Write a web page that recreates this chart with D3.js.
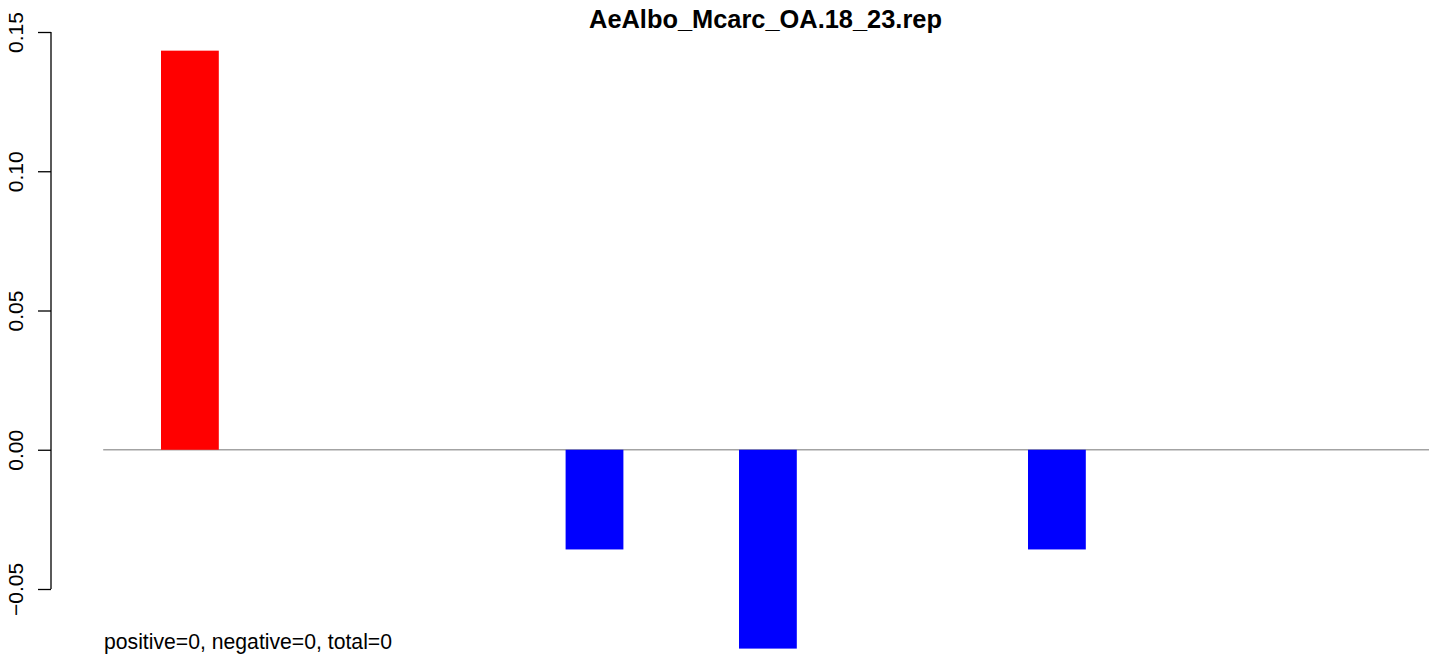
<!DOCTYPE html>
<html>
<head>
<meta charset="utf-8">
<script src="https://cdn.jsdelivr.net/npm/d3@7"></script>
<style>
  html, body { margin: 0; padding: 0; background: #fff; }
  svg { display: block; }
  text { font-family: "Liberation Sans", Arial, Helvetica, sans-serif; }
</style>
</head>
<body>
<div id="chart"></div>
<script>
// ---- data ----
const title = "AeAlbo_Mcarc_OA.18_23.rep";
const footnote = "positive=0, negative=0, total=0";
const categories = d3.range(23);
const values = [0, 0.1433, 0, 0, 0, 0, 0, 0, -0.0358, 0, 0, -0.0714, 0, 0, 0, 0, -0.0358, 0, 0, 0, 0, 0, 0];
const yTicks = [-0.05, 0, 0.05, 0.10, 0.15];
const yTickLabels = ["\u22120.05", "0.00", "0.05", "0.10", "0.15"];

// ---- layout ----
const W = 1429, H = 655;
const svg = d3.select("#chart").append("svg").attr("width", W).attr("height", H);

const x = d3.scaleBand().domain(categories).range([103.2, 103.2 + 23 * 57.8]).paddingInner(0).paddingOuter(0);
const y = d3.scaleLinear().domain([-0.05, 0.15]).range([589, 32]);

// zero line
svg.append("line")
  .attr("x1", x.range()[0]).attr("x2", x.range()[1])
  .attr("y1", y(0)).attr("y2", y(0))
  .attr("stroke", "#a3a3a3").attr("stroke-width", 1.5);

// bars
svg.append("g").selectAll("rect")
  .data(categories.filter(i => values[i] !== 0))
  .join("rect")
  .attr("x", i => x(i))
  .attr("width", x.bandwidth())
  .attr("y", i => y(Math.max(0, values[i])))
  .attr("height", i => Math.abs(y(values[i]) - y(0)))
  .attr("fill", i => values[i] > 0 ? "#ff0000" : "#0000ff");

// y axis
const yAxis = d3.axisLeft(y).tickValues(yTicks).tickSize(13).tickFormat((d, i) => yTickLabels[i]);
const ga = svg.append("g").attr("transform", "translate(51,0)").call(yAxis);
ga.select(".domain").attr("d", `M0,${y(0.15)}V${y(-0.05)}`).attr("stroke", "#000").attr("stroke-width", 1.3);
ga.selectAll(".tick line").attr("stroke", "#000").attr("stroke-width", 1.3);
ga.selectAll(".tick text")
  .attr("font-size", 21)
  .attr("fill", "#000")
  .attr("text-anchor", "middle")
  .attr("x", null).attr("dy", null)
  .attr("transform", "translate(-28,0) rotate(-90)")
  .attr("y", 0);

// title
svg.append("text")
  .attr("x", 765.5).attr("y", 28)
  .attr("text-anchor", "middle")
  .attr("font-size", 25.4).attr("font-weight", "bold")
  .attr("fill", "#000")
  .text(title);

// footnote
svg.append("text")
  .attr("x", 104).attr("y", 649)
  .attr("font-size", 21.2)
  .attr("fill", "#000")
  .text(footnote);
</script>
</body>
</html>
